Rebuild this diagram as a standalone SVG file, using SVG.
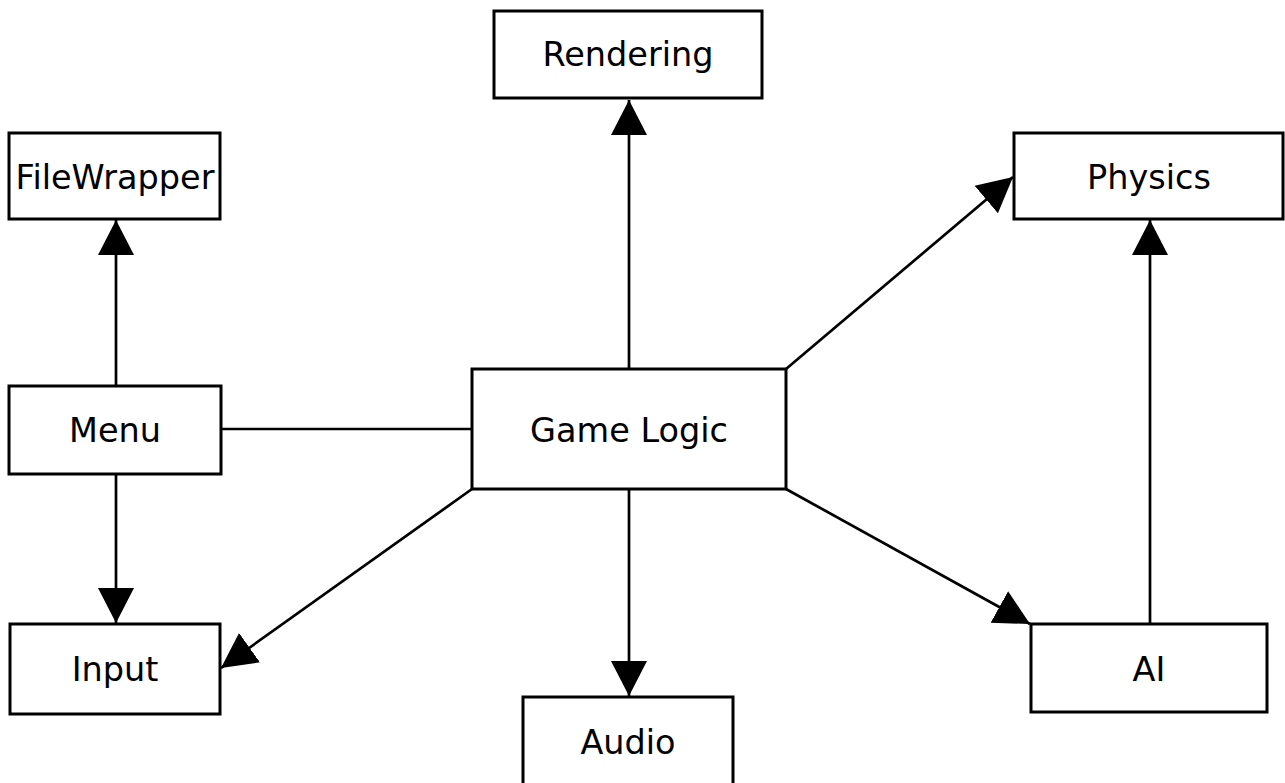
<svg xmlns="http://www.w3.org/2000/svg" width="1285" height="783" viewBox="0 0 1285 783">
<style>
.box{fill:#fff;stroke:#000;stroke-width:3}
.lbl{font-family:"DejaVu Sans",sans-serif;font-size:33.5px;text-anchor:middle;fill:#000}
.edge{stroke:#000;stroke-width:2.7;fill:none}
</style>
<defs>
<marker id="arr" markerUnits="userSpaceOnUse" markerWidth="36" markerHeight="38" viewBox="0 0 36 38" refX="35" refY="19" orient="auto">
<path d="M0,1 L35,19 L0,37 z" fill="#000"/>
</marker>
</defs>
<rect width="1285" height="783" fill="#fff"/>
<g id="connectors">
<line class="edge" x1="629" y1="369" x2="629" y2="100" marker-end="url(#arr)"/>
<line class="edge" x1="116" y1="386" x2="116" y2="220" marker-end="url(#arr)"/>
<line class="edge" x1="116" y1="474" x2="116" y2="623" marker-end="url(#arr)"/>
<line class="edge" x1="221" y1="429" x2="472" y2="429"/>
<line class="edge" x1="629" y1="489" x2="629" y2="696" marker-end="url(#arr)"/>
<line class="edge" x1="786" y1="369" x2="1013" y2="177" marker-end="url(#arr)"/>
<line class="edge" x1="472" y1="489" x2="221" y2="668" marker-end="url(#arr)"/>
<line class="edge" x1="786" y1="489" x2="1030" y2="624" marker-end="url(#arr)"/>
<line class="edge" x1="1150" y1="624" x2="1150" y2="220" marker-end="url(#arr)"/>
</g>
<g id="rendering"><rect class="box" x="494" y="11" width="268" height="87"/><text class="lbl" x="628" y="66">Rendering</text></g>
<g id="filewrapper"><rect class="box" x="9" y="133" width="211" height="86"/><text class="lbl" x="115" y="189">FileWrapper</text></g>
<g id="physics"><rect class="box" x="1014" y="133" width="269" height="86"/><text class="lbl" x="1149" y="189">Physics</text></g>
<g id="menu"><rect class="box" x="9" y="386" width="212" height="88"/><text class="lbl" x="115" y="442">Menu</text></g>
<g id="gamelogic"><rect class="box" x="472" y="369" width="314" height="120"/><text class="lbl" x="629" y="442">Game Logic</text></g>
<g id="input"><rect class="box" x="10" y="624" width="210" height="90"/><text class="lbl" x="115" y="681">Input</text></g>
<g id="audio"><rect class="box" x="523" y="697" width="210" height="92"/><text class="lbl" x="628" y="754">Audio</text></g>
<g id="ai"><rect class="box" x="1031" y="624" width="236" height="88"/><text class="lbl" x="1149" y="681">AI</text></g>
</svg>
